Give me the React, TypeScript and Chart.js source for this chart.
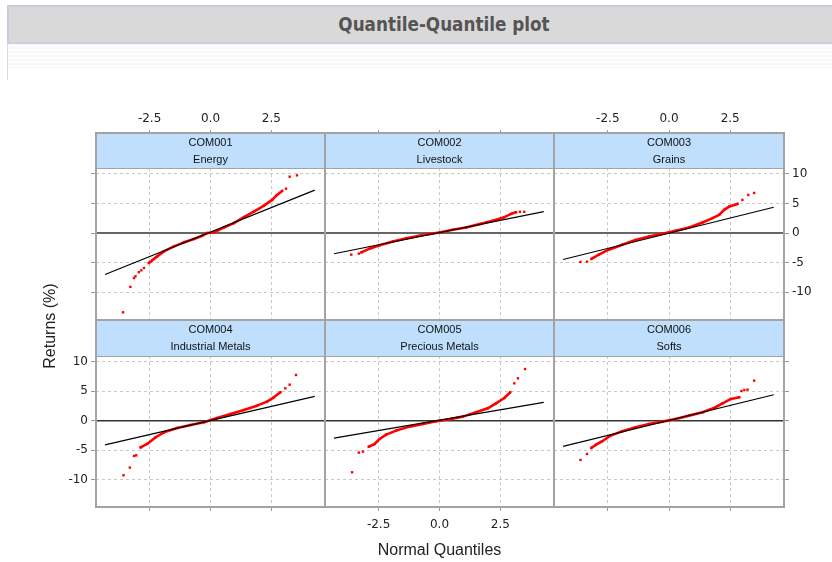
import React, { useEffect, useRef } from 'react';
import { Chart, registerables } from 'chart.js';

Chart.register(...registerables);

// ---------- data ----------
const panelCodes = ['COM001', 'COM002', 'COM003', 'COM004', 'COM005', 'COM006'];
const panelNames = ['Energy', 'Livestock', 'Grains', 'Industrial Metals', 'Precious Metals', 'Softs'];

const xTickValues = [-2.5, 0, 2.5];
const xTickLabels = ['-2.5', '0.0', '2.5'];
const yTickValues = [-10, -5, 0, 5, 10];
const yTickLabels = ['-10', '-5', '0', '5', '10'];

const xMin = -4.7;
const xMax = 4.7;
const yMin = -14.7;
const yMax = 11;

// normal quantiles (x) and sorted returns (y)
const energyQ = [-3.59, -3.29, -3.14, -3.08, -2.94, -2.84, -2.73, -2.53, -2.19, -1.91, -1.5, -1.09, -0.68, -0.34, -0.14, 0.14, 0.55, 0.96, 1.37, 1.78, 2.18, 2.53, 2.73, 2.94, 3.1, 3.25, 3.55];
const energyR = [-13.4, -9.1, -7.6, -7.3, -6.6, -6.3, -5.9, -5.05, -3.94, -3.1, -2.25, -1.57, -1.0, -0.45, 0.0, 0.1, 0.95, 1.68, 2.69, 3.64, 4.6, 5.6, 6.45, 7.12, 7.5, 9.53, 9.76];

const livestockQ = [-3.62, -3.31, -3.21, -2.87, -2.46, -1.91, -1.37, -0.82, -0.41, 0, 0.55, 1.09, 1.64, 2.19, 2.66, 2.94, 3.14, 3.3, 3.48];
const livestockR = [-3.65, -3.48, -3.26, -2.64, -2.08, -1.41, -0.9, -0.45, -0.17, 0.1, 0.56, 0.95, 1.51, 2.07, 2.69, 3.25, 3.53, 3.6, 3.59];

const grainsQ = [-3.62, -3.35, -3.17, -2.87, -2.46, -1.91, -1.37, -0.82, -0.27, 0.27, 0.82, 1.37, 1.78, 2.05, 2.25, 2.46, 2.8, 3.0, 3.24, 3.48];
const grainsR = [-4.88, -4.83, -4.38, -3.65, -2.81, -1.97, -1.18, -0.57, -0.12, 0.39, 0.95, 1.79, 2.53, 3.08, 3.92, 4.48, 4.93, 5.6, 6.45, 6.78];

const indMetalsQ = [-3.57, -3.31, -3.14, -3.05, -2.87, -2.6, -2.25, -1.91, -1.37, -0.82, -0.27, 0.27, 0.82, 1.37, 1.91, 2.32, 2.6, 2.87, 3.07, 3.25, 3.51];
const indMetalsR = [-9.3, -7.99, -6.01, -5.9, -4.54, -3.97, -2.83, -1.98, -1.25, -0.74, -0.28, 0.45, 1.13, 1.81, 2.55, 3.23, 3.97, 4.82, 5.5, 6.12, 7.77];

const precMetalsQ = [-3.59, -3.31, -3.14, -2.9, -2.66, -2.46, -2.19, -1.78, -1.23, -0.68, -0.14, 0.41, 0.96, 1.5, 1.98, 2.32, 2.66, 2.9, 3.07, 3.22, 3.51];
const precMetalsR = [-8.79, -5.44, -5.27, -4.42, -3.97, -3.12, -2.38, -1.7, -1.02, -0.57, -0.11, 0.23, 0.68, 1.42, 2.1, 2.95, 3.85, 4.82, 6.35, 7.2, 8.78];

const softsQ = [-3.62, -3.35, -3.18, -3.0, -2.73, -2.39, -1.91, -1.37, -0.82, -0.27, 0.27, 0.82, 1.37, 1.84, 2.19, 2.53, 2.87, 2.96, 3.08, 3.21, 3.48];
const softsR = [-6.69, -5.67, -4.65, -4.14, -3.51, -2.55, -1.81, -1.13, -0.57, -0.17, 0.28, 0.85, 1.42, 2.15, 2.95, 3.69, 3.97, 5.04, 5.2, 5.27, 6.8];

// reference lines (end points)
const lineQ = [-4.33, 4.28];
const energyLine = [-7.0, 7.25];
const livestockLine = [-3.5, 3.62];
const grainsLine = [-4.47, 4.36];
const indMetalsLine = [-4.14, 4.14];
const precMetalsLine = [-2.97, 3.1];
const softsLine = [-4.38, 4.4];

// range of the dense central part (drawn as a continuous band)
const bodyLow = [-2.6, -3.25, -3.2, -2.95, -2.95, -3.2];
const bodyHigh = [2.95, 3.2, 2.85, 2.95, 2.95, 2.9];

const quantiles = [energyQ, livestockQ, grainsQ, indMetalsQ, precMetalsQ, softsQ];
const returns = [energyR, livestockR, grainsR, indMetalsR, precMetalsR, softsR];
const refLines = [energyLine, livestockLine, grainsLine, indMetalsLine, precMetalsLine, softsLine];

// ---------- layout ----------
const W = 832;
const H = 562;
const colLeft = [96, 325, 554];
const colRight = [325, 554, 784];
const plotTop = [168, 356];
const plotBottom = [320, 507];
const headerH = [35, 36];
const AX_TOP = 60;
const AX_BOTTOM = 30;
const AX_SIDE = 40;

const RED = '#ff0000';
const GRID = '#c8c8c8';
const TICK = '#9a9a9a';
const tickFont = { family: '"DejaVu Sans", Verdana, sans-serif', size: 12 };

const panelPlugin = {
  id: 'panelDecor',
  beforeDatasetsDraw(chart: any) {
    const { ctx, chartArea } = chart;
    const y0 = chart.scales.y.getPixelForValue(0);
    ctx.save();
    ctx.strokeStyle = '#333333';
    ctx.lineWidth = 1.5;
    ctx.beginPath();
    ctx.moveTo(chartArea.left, y0);
    ctx.lineTo(chartArea.right, y0);
    ctx.stroke();
    ctx.restore();
  },
  afterDraw(chart: any) {
    const { ctx, chartArea } = chart;
    const idx = chart.options.plugins.panelDecor.index;
    const row = Math.floor(idx / 3);
    const hh = headerH[row];
    const top = chartArea.top - hh;
    const w = chartArea.right - chartArea.left;
    ctx.save();
    ctx.fillStyle = '#bfdffc';
    ctx.fillRect(chartArea.left, top, w, hh);
    ctx.strokeStyle = '#a3a3a3';
    ctx.lineWidth = 1;
    ctx.beginPath();
    ctx.moveTo(chartArea.left, chartArea.top + 0.5);
    ctx.lineTo(chartArea.right, chartArea.top + 0.5);
    ctx.stroke();
    ctx.lineWidth = 2;
    ctx.strokeRect(chartArea.left, top, w, chartArea.bottom - top);
    ctx.fillStyle = '#111111';
    ctx.font = '11px "Liberation Sans", Arial, sans-serif';
    ctx.textAlign = 'center';
    ctx.textBaseline = 'middle';
    const cx = (chartArea.left + chartArea.right) / 2;
    ctx.fillText(panelCodes[idx], cx, top + 10);
    ctx.fillText(panelNames[idx], cx, top + 27);
    ctx.restore();
  },
};

function makeConfig(idx: number): any {
  const row = Math.floor(idx / 3);
  const col = idx % 3;
  const lo = bodyLow[idx];
  const hi = bodyHigh[idx];
  const showX = (row === 0 && col !== 1) || (row === 1 && col === 1);
  const showY = (row === 1 && col === 0) || (row === 0 && col === 2);
  const xSize = row === 0 ? AX_TOP : AX_BOTTOM;
  const yRight = col === 2;
  return {
    type: 'scatter',
    data: {
      datasets: [
        {
          data: lineQ.map((x, i) => ({ x, y: refLines[idx][i] })),
          showLine: true,
          borderColor: '#000000',
          borderWidth: 1.2,
          pointRadius: 0,
        },
        {
          data: quantiles[idx].map((x, i) => ({ x, y: returns[idx][i] })),
          showLine: true,
          borderWidth: 2.6,
          borderColor: RED,
          borderCapStyle: 'round',
          borderJoinStyle: 'round',
          segment: {
            borderColor: (c: any) =>
              c.p0.parsed.x >= lo && c.p1.parsed.x <= hi ? RED : 'rgba(0,0,0,0)',
          },
          pointStyle: 'rect',
          pointRadius: 1.7,
          pointBackgroundColor: RED,
          pointBorderWidth: 0,
        },
      ],
    },
    options: {
      responsive: false,
      animation: false,
      events: [],
      layout: {
        padding: {
          left: yRight ? colLeft[col] : colLeft[col] - AX_SIDE,
          right: yRight ? W - colRight[col] - AX_SIDE : W - colRight[col],
          top: row === 0 ? plotTop[row] - xSize : plotTop[row],
          bottom: row === 0 ? H - plotBottom[row] : H - plotBottom[row] - xSize,
        },
      },
      plugins: {
        legend: { display: false },
        tooltip: { enabled: false },
        panelDecor: { index: idx },
      },
      scales: {
        x: {
          type: 'linear',
          position: row === 0 ? 'top' : 'bottom',
          min: xMin,
          max: xMax,
          afterBuildTicks: (s: any) => {
            s.ticks = xTickValues.map((v) => ({ value: v }));
          },
          afterFit: (s: any) => {
            s.height = xSize;
          },
          ticks: {
            display: showX,
            autoSkip: false,
            maxRotation: 0,
            font: tickFont,
            color: '#222222',
            padding: row === 0 ? 4 : 7,
            callback: (v: number) => xTickLabels[xTickValues.indexOf(v)],
          },
          grid: {
            color: GRID,
            lineWidth: 1,
            drawTicks: true,
            tickLength: row === 0 ? headerH[0] + 3 : 4,
            tickColor: TICK,
            tickWidth: 1,
          },
          border: { display: false, dash: [3, 3] },
        },
        y: {
          type: 'linear',
          position: yRight ? 'right' : 'left',
          min: yMin,
          max: yMax,
          afterBuildTicks: (s: any) => {
            s.ticks = yTickValues.map((v) => ({ value: v }));
          },
          afterFit: (s: any) => {
            s.width = AX_SIDE;
          },
          ticks: {
            display: showY,
            autoSkip: false,
            font: tickFont,
            color: '#222222',
            padding: 3,
            callback: (v: number) => yTickLabels[yTickValues.indexOf(v)],
          },
          grid: {
            color: (c: any) => (c.tick && c.tick.value === 0 ? 'rgba(0,0,0,0)' : GRID),
            lineWidth: 1,
            drawTicks: col !== 1,
            tickLength: 5,
            tickColor: TICK,
            tickWidth: 1,
          },
          border: { display: false, dash: [3, 3] },
        },
      },
    },
    plugins: [panelPlugin],
  };
}

export default function App() {
  const refs = useRef<(HTMLCanvasElement | null)[]>([]);

  useEffect(() => {
    const charts = panelCodes.map((_, i) => new Chart(refs.current[i] as HTMLCanvasElement, makeConfig(i)));
    return () => {
      charts.forEach((c) => c.destroy());
    };
  }, []);

  return (
    <div
      style={{
        position: 'absolute',
        left: 0,
        top: 0,
        width: W,
        height: H,
        overflow: 'hidden',
        background: '#ffffff',
        fontFamily: '"Liberation Sans", Arial, sans-serif',
      }}
    >
      <div
        style={{
          position: 'absolute',
          left: 7,
          top: 5,
          width: 1,
          height: 75,
          background: '#dcd8ea',
        }}
      />
      <div
        style={{
          position: 'absolute',
          left: 8,
          top: 43,
          width: W,
          height: 25,
          background:
            'repeating-linear-gradient(to bottom, #f6f7f9 0px, #f6f7f9 2px, #fefefe 2px, #fefefe 4px)',
        }}
      />
      <div
        style={{
          position: 'absolute',
          left: 7,
          top: 5,
          width: 872,
          height: 39,
          boxSizing: 'border-box',
          background: '#d9d9d9',
          borderTop: '2px solid #cdc9dd',
          borderLeft: '2px solid #cdc9dd',
          borderBottom: '2px solid #d0cce2',
          textAlign: 'center',
          lineHeight: '35px',
          fontFamily: '"DejaVu Sans Condensed", "DejaVu Sans", sans-serif',
          fontStretch: 'condensed',
          fontWeight: 'bold',
          fontSize: 18.7,
          color: '#555555',
        }}
      >
        Quantile-Quantile plot
      </div>
      {panelCodes.map((_, i) => (
        <canvas
          key={i}
          ref={(el) => {
            refs.current[i] = el;
          }}
          width={W}
          height={H}
          style={{ position: 'absolute', left: 0, top: 0, width: W, height: H }}
        />
      ))}
      <div
        style={{
          position: 'absolute',
          left: 339.5,
          top: 539.5,
          width: 200,
          height: 20,
          lineHeight: '20px',
          textAlign: 'center',
          fontSize: 16,
          color: '#222222',
          whiteSpace: 'nowrap',
        }}
      >
        Normal Quantiles
      </div>
      <div
        style={{
          position: 'absolute',
          left: -10,
          top: 316,
          width: 120,
          height: 20,
          lineHeight: '20px',
          textAlign: 'center',
          fontSize: 16,
          color: '#222222',
          whiteSpace: 'nowrap',
          transform: 'rotate(-90deg)',
        }}
      >
        Returns (%)
      </div>
    </div>
  );
}
